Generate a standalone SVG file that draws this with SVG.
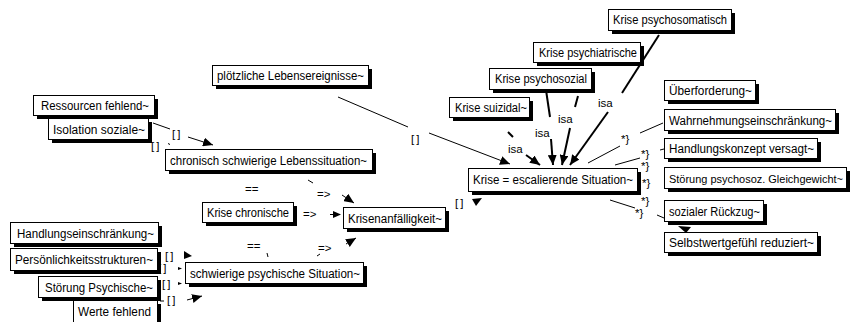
<svg xmlns="http://www.w3.org/2000/svg" width="852" height="322" viewBox="0 0 852 322">
<style>
.sh{fill:#000}
.bx{fill:#fff;stroke:#000;stroke-width:1}
.t{font-family:"Liberation Sans","DejaVu Sans",sans-serif;font-size:12px;fill:#000}
.l{font-family:"Liberation Sans","DejaVu Sans",sans-serif;font-size:11.5px;fill:#000}
.b{letter-spacing:2px}
.ln{stroke:#000;stroke-width:1;fill:none}
.th{stroke:#000;stroke-width:2;fill:none}
.ah{fill:#000}
</style>
<defs>
<marker id="a" markerUnits="userSpaceOnUse" markerWidth="11" markerHeight="9" refX="10" refY="4.5" orient="auto"><path d="M0,0 L10,4.5 L0,9 z" fill="#000"/></marker>
</defs>
<g id="connectors">
<line class="ln" x1="153" y1="123" x2="170" y2="129"/>
<text class="l b" x="172" y="138">[]</text>
<line class="ln" x1="188" y1="137" x2="213" y2="145" marker-end="url(#a)"/>
<text class="l b" x="151" y="150">[]</text>
<line class="ln" x1="168.5" y1="143" x2="169.5" y2="145"/>
<line class="ln" x1="338" y1="97" x2="408" y2="127"/>
<text class="l b" x="411" y="143">[]</text>
<line class="ln" x1="429" y1="133" x2="510" y2="164" marker-end="url(#a)"/>
<line class="th" x1="508" y1="132" x2="513" y2="137"/>
<text class="l" x="508" y="153">isa</text>
<line class="th" x1="526" y1="155" x2="540" y2="165" marker-end="url(#a)"/>
<line class="th" x1="546" y1="90" x2="550" y2="117"/>
<text class="l" x="535" y="137">isa</text>
<line class="th" x1="551" y1="139" x2="553" y2="165" marker-end="url(#a)"/>
<line class="th" x1="578" y1="96" x2="575" y2="107"/>
<text class="l" x="558" y="123">isa</text>
<line class="th" x1="570" y1="128" x2="562" y2="165" marker-end="url(#a)"/>
<line class="th" x1="659" y1="35" x2="622" y2="93"/>
<text class="l" x="598" y="107">isa</text>
<line class="th" x1="608" y1="112" x2="570" y2="165" marker-end="url(#a)"/>
<line class="ln" x1="588" y1="163" x2="620" y2="146"/>
<text class="l" x="621" y="143">*}</text>
<line class="ln" x1="640" y1="133" x2="663" y2="123"/>
<line class="ln" x1="615" y1="165" x2="640" y2="158"/>
<text class="l" x="641" y="158">*}</text>
<line class="ln" x1="660" y1="150" x2="664" y2="149"/>
<text class="l" x="641" y="170">*}</text>
<text class="l" x="642" y="187">*}</text>
<text class="l" x="641" y="205">*}</text>
<line class="ln" x1="610" y1="200" x2="635" y2="208"/>
<text class="l" x="635" y="217">*}</text>
<line class="ln" x1="657" y1="215" x2="664" y2="218"/>
<polygon class="ah" points="678,226 691,227 686,233"/>
<text class="l b" x="455" y="207">[]</text>
<polygon class="ah" points="472,199 482,198 476,206"/>
<text class="l" x="303" y="218">=&gt;</text>
<line class="ln" x1="330" y1="214.5" x2="334" y2="214.5"/>
<polygon class="ah" points="333,211 341,214.5 333,218"/>
<text class="l" x="245" y="193">==</text>
<line class="ln" x1="308" y1="180" x2="313" y2="183"/>
<text class="l" x="317" y="198">=&gt;</text>
<line class="ln" x1="342" y1="195" x2="354" y2="203" marker-end="url(#a)"/>
<text class="l" x="247" y="250">==</text>
<line class="ln" x1="267" y1="253" x2="268" y2="257"/>
<text class="l" x="318" y="252">=&gt;</text>
<line class="ln" x1="317" y1="256" x2="320" y2="254"/>
<line class="ln" x1="346" y1="244" x2="356" y2="238" marker-end="url(#a)"/>
<text class="l b" x="165" y="260">[]</text>
<polygon class="ah" points="184,251 192,256 184,259"/>
<text class="l b" x="158" y="272">[]</text>
<polygon class="ah" points="178,267 182,268.5 178,270"/>
<text class="l b" x="162" y="288">[]</text>
<polygon class="ah" points="178,282 182,283.5 178,285"/>
<line class="ln" x1="160" y1="301" x2="164" y2="301"/>
<text class="l b" x="167" y="304">[]</text>
<line class="ln" x1="187" y1="300" x2="202" y2="296" marker-end="url(#a)"/>
</g>
<g id="n1"><rect class="sh" x="612" y="13" width="123" height="21"/><rect class="bx" x="608.5" y="9.5" width="123" height="21"/><text class="t" x="613" y="24" textLength="114" lengthAdjust="spacingAndGlyphs">Krise psychosomatisch</text></g>
<g id="n2"><rect class="sh" x="537" y="46" width="107" height="20"/><rect class="bx" x="533.5" y="42.5" width="107" height="20"/><text class="t" x="539" y="57" textLength="98" lengthAdjust="spacingAndGlyphs">Krise psychiatrische</text></g>
<g id="n3"><rect class="sh" x="493" y="72" width="102" height="21"/><rect class="bx" x="489.5" y="68.5" width="102" height="21"/><text class="t" x="495" y="83" textLength="92" lengthAdjust="spacingAndGlyphs">Krise psychosozial</text></g>
<g id="n4"><rect class="sh" x="453" y="101" width="80" height="20"/><rect class="bx" x="449.5" y="97.5" width="80" height="20"/><text class="t" x="455" y="112" textLength="72" lengthAdjust="spacingAndGlyphs">Krise suizidal~</text></g>
<g id="n5"><rect class="sh" x="668" y="84" width="91" height="20"/><rect class="bx" x="664.5" y="80.5" width="91" height="20"/><text class="t" x="669" y="95" textLength="83" lengthAdjust="spacingAndGlyphs">Überforderung~</text></g>
<g id="n6"><rect class="sh" x="668" y="113" width="171" height="21"/><rect class="bx" x="664.5" y="109.5" width="171" height="21"/><text class="t" x="669" y="125" textLength="163" lengthAdjust="spacingAndGlyphs">Wahrnehmungseinschränkung~</text></g>
<g id="n7"><rect class="sh" x="668" y="142" width="153" height="20"/><rect class="bx" x="664.5" y="138.5" width="153" height="20"/><text class="t" x="669" y="153" textLength="145" lengthAdjust="spacingAndGlyphs">Handlungskonzept versagt~</text></g>
<g id="n8"><rect class="sh" x="668" y="171" width="182" height="21"/><rect class="bx" x="664.5" y="167.5" width="182" height="21"/><text class="t" x="669" y="183" font-size="11px" style="font-size:11px" textLength="174" lengthAdjust="spacingAndGlyphs">Störung psychosoz. Gleichgewicht~</text></g>
<g id="n9"><rect class="sh" x="668" y="204" width="99" height="21"/><rect class="bx" x="664.5" y="200.5" width="99" height="21"/><text class="t" x="669" y="216" textLength="91" lengthAdjust="spacingAndGlyphs">sozialer Rückzug~</text></g>
<g id="n10"><rect class="sh" x="668" y="236" width="153" height="20"/><rect class="bx" x="664.5" y="232.5" width="153" height="20"/><text class="t" x="669" y="247" textLength="145" lengthAdjust="spacingAndGlyphs">Selbstwertgefühl reduziert~</text></g>
<g id="n11"><rect class="sh" x="472" y="172" width="169" height="23"/><rect class="bx" x="468.5" y="168.5" width="169" height="23"/><text class="t" x="473" y="184" font-size="12.5" textLength="160" lengthAdjust="spacingAndGlyphs">Krise = escalierende Situation~</text></g>
<g id="n12"><rect class="sh" x="216" y="69" width="156" height="20"/><rect class="bx" x="212.5" y="65.5" width="156" height="20"/><text class="t" x="217" y="80" textLength="147" lengthAdjust="spacingAndGlyphs">plötzliche Lebensereignisse~</text></g>
<g id="n13"><rect class="sh" x="37" y="99" width="121" height="20"/><rect class="bx" x="33.5" y="95.5" width="121" height="20"/><text class="t" x="41" y="110" textLength="108" lengthAdjust="spacingAndGlyphs">Ressourcen fehlend~</text></g>
<g id="n14"><rect class="sh" x="52" y="122" width="100" height="21"/><rect class="bx" x="48.5" y="118.5" width="100" height="21"/><text class="t" x="53" y="134" textLength="92" lengthAdjust="spacingAndGlyphs">Isolation soziale~</text></g>
<g id="n15"><rect class="sh" x="169" y="153" width="207" height="21"/><rect class="bx" x="165.5" y="149.5" width="207" height="21"/><text class="t" x="170" y="165" textLength="197" lengthAdjust="spacingAndGlyphs">chronisch schwierige Lebenssituation~</text></g>
<g id="n16"><rect class="sh" x="206" y="206" width="91" height="20"/><rect class="bx" x="202.5" y="202.5" width="91" height="20"/><text class="t" x="207" y="217" textLength="82" lengthAdjust="spacingAndGlyphs">Krise chronische</text></g>
<g id="n17"><rect class="sh" x="347" y="211" width="102" height="21"/><rect class="bx" x="343.5" y="207.5" width="102" height="21"/><text class="t" x="348" y="223" textLength="94" lengthAdjust="spacingAndGlyphs">Krisenanfälligkeit~</text></g>
<g id="n18"><rect class="sh" x="189" y="266" width="178" height="21"/><rect class="bx" x="185.5" y="262.5" width="178" height="21"/><text class="t" x="190" y="278" textLength="170" lengthAdjust="spacingAndGlyphs">schwierige psychische Situation~</text></g>
<g id="n19"><rect class="sh" x="14" y="226" width="148" height="21"/><rect class="bx" x="10.5" y="222.5" width="148" height="21"/><text class="t" x="17" y="238" textLength="137" lengthAdjust="spacingAndGlyphs">Handlungseinschränkung~</text></g>
<g id="n20"><rect class="sh" x="14" y="252" width="147" height="22"/><rect class="bx" x="10.5" y="248.5" width="147" height="22"/><text class="t" x="15" y="264" textLength="138" lengthAdjust="spacingAndGlyphs">Persönlichkeitsstrukturen~</text></g>
<g id="n21"><rect class="sh" x="42" y="280" width="119" height="21"/><rect class="bx" x="38.5" y="276.5" width="119" height="21"/><text class="t" x="45" y="292" textLength="108" lengthAdjust="spacingAndGlyphs">Störung Psychische~</text></g>
<g id="n22"><rect class="sh" x="77" y="304" width="84" height="24"/><rect class="bx" x="73.5" y="300.5" width="84" height="24"/><text class="t" x="78" y="316" textLength="73" lengthAdjust="spacingAndGlyphs">Werte fehlend</text></g>
</svg>
